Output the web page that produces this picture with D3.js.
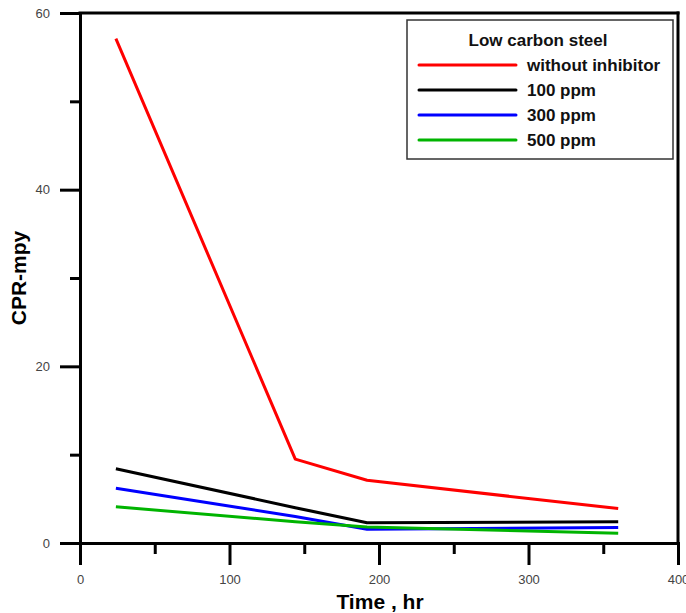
<!DOCTYPE html>
<html>
<head>
<meta charset="utf-8">
<script src="https://cdn.jsdelivr.net/npm/d3@7"></script>
<style>
  body { margin: 0; background: #fff; }
  svg { display: block; font-family: Arial, "Liberation Sans", sans-serif; }
</style>
</head>
<body>
<div id="chart"></div>
<script>
// data
const times = [24, 144, 192, 360];
const withoutInhibitor = [57.1, 9.5, 7.1, 3.9];
const ppm100 = [8.4, 4.0, 2.3, 2.4];
const ppm300 = [6.2, 3.0, 1.55, 1.75];
const ppm500 = [4.1, 2.4, 1.8, 1.1];
const seriesNames = ["without inhibitor", "100 ppm", "300 ppm", "500 ppm"];
const seriesColors = ["#ff0000", "#000000", "#0000ff", "#00b400"];
const xMajor = [0, 100, 200, 300, 400];
const xMinor = [50, 150, 250, 350];
const yMajor = [0, 20, 40, 60];
const yMinor = [10, 30, 50];

const series = [withoutInhibitor, ppm100, ppm300, ppm500].map((vals, i) => ({
    name: seriesNames[i],
    color: seriesColors[i],
    points: vals.map((v, j) => ({t: times[j], v: v}))
}));

const width = 686, height = 613;
const margin = {top: 13, right: 8, bottom: 70, left: 80};

const svg = d3.select("#chart")
    .append("svg")
    .attr("width", width)
    .attr("height", height);

const x = d3.scaleLinear()
    .domain([0, 400])
    .range([margin.left, width - margin.right]);

const y = d3.scaleLinear()
    .domain([0, 60])
    .range([height - margin.bottom, margin.top]);

// minor ticks first, so the major axes draw on top
svg.append("g")
    .attr("class", "axis")
    .attr("transform", `translate(0,${y(0)})`)
    .call(d3.axisBottom(x).tickValues(xMinor).tickSizeInner(11).tickSizeOuter(0).tickFormat(""));

svg.append("g")
    .attr("class", "axis")
    .attr("transform", `translate(${x(0)},0)`)
    .call(d3.axisLeft(y).tickValues(yMinor).tickSizeInner(10).tickSizeOuter(0).tickFormat(""));

// X axis
svg.append("g")
    .attr("class", "axis major")
    .attr("transform", `translate(0,${y(0)})`)
    .call(d3.axisBottom(x).tickValues(xMajor).tickSizeInner(22).tickSizeOuter(0).tickPadding(10));

// Y axis
svg.append("g")
    .attr("class", "axis major")
    .attr("transform", `translate(${x(0)},0)`)
    .call(d3.axisLeft(y).tickValues(yMajor).tickSizeInner(20).tickSizeOuter(0).tickPadding(10));

// top and right frame
svg.append("line")
    .attr("x1", x(0)).attr("x2", x(400))
    .attr("y1", y(60)).attr("y2", y(60))
    .attr("stroke", "#000").attr("stroke-width", 3).attr("stroke-linecap", "square");
svg.append("line")
    .attr("x1", x(400)).attr("x2", x(400))
    .attr("y1", y(60)).attr("y2", y(0))
    .attr("stroke", "#000").attr("stroke-width", 3).attr("stroke-linecap", "square");

svg.selectAll(".axis path, .axis line")
    .attr("stroke", "#000")
    .attr("stroke-width", 3);
svg.selectAll(".axis path").attr("stroke-linecap", "square");
svg.selectAll(".axis text")
    .attr("font-size", 13)
    .attr("font-family", "Arial, 'Liberation Sans', sans-serif")
    .attr("fill", "#444");

// lines
const line = d3.line()
    .x(d => x(d.t))
    .y(d => y(d.v));

svg.selectAll(".series")
    .data(series)
    .enter()
    .append("path")
    .attr("class", "series")
    .attr("d", d => line(d.points))
    .attr("fill", "none")
    .attr("stroke", d => d.color)
    .attr("stroke-width", 3)
    .attr("stroke-linejoin", "round");

// axis titles
svg.append("text")
    .attr("transform", "translate(18,278) rotate(-90)")
    .attr("text-anchor", "middle")
    .attr("dominant-baseline", "central")
    .attr("font-size", 21)
    .attr("font-weight", "bold")
    .text("CPR-mpy");

svg.append("text")
    .attr("x", 380)
    .attr("y", 609)
    .attr("text-anchor", "middle")
    .attr("font-size", 21)
    .attr("font-weight", "bold")
    .text("Time , hr");

// legend
const legend = svg.append("g").attr("transform", "translate(407,20)");
legend.append("rect")
    .attr("width", 266)
    .attr("height", 139)
    .attr("fill", "#fff")
    .attr("stroke", "#333")
    .attr("stroke-width", 1.5);
legend.append("text")
    .attr("x", 131)
    .attr("y", 26)
    .attr("text-anchor", "middle")
    .attr("font-size", 17)
    .attr("font-weight", "bold")
    .attr("fill", "#111")
    .text("Low carbon steel");

const rows = legend.selectAll(".row")
    .data(series)
    .enter()
    .append("g")
    .attr("class", "row")
    .attr("transform", (d, i) => `translate(0,${45 + i * 25})`);
rows.append("line")
    .attr("x1", 12).attr("x2", 109)
    .attr("stroke", d => d.color)
    .attr("stroke-width", 3)
    .attr("stroke-linecap", "round");
rows.append("text")
    .attr("x", 120)
    .attr("y", 6)
    .attr("font-size", 17)
    .attr("font-weight", "bold")
    .attr("fill", "#111")
    .text(d => d.name);
</script>
</body>
</html>
